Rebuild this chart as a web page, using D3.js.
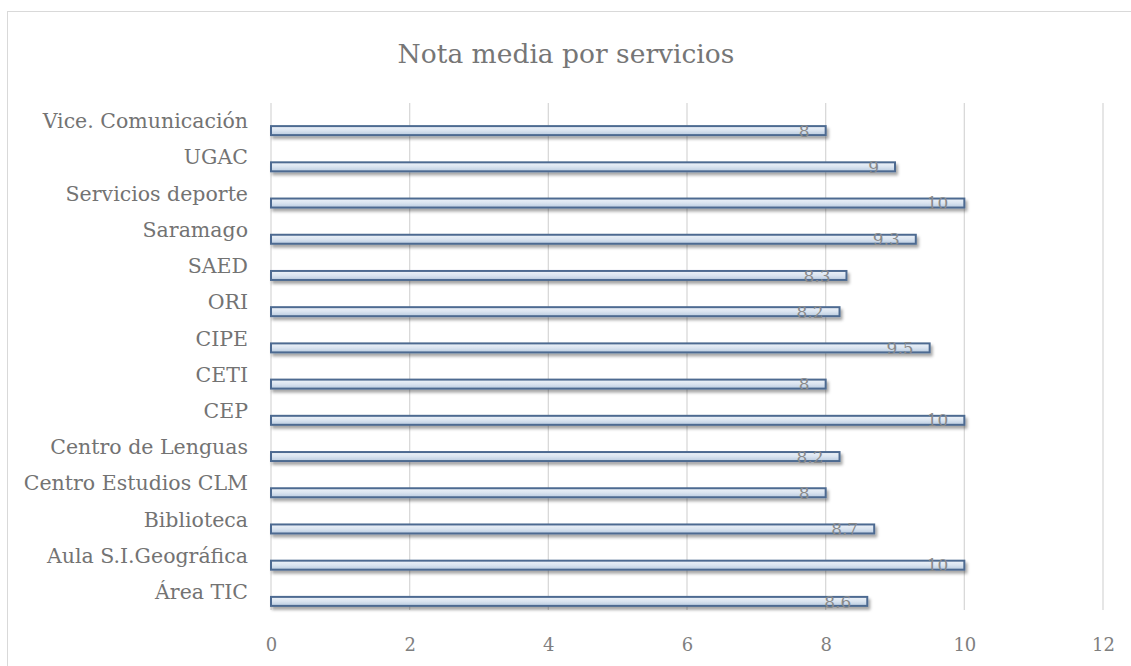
<!DOCTYPE html>
<html>
<head>
<meta charset="utf-8">
<script src="https://cdn.jsdelivr.net/npm/d3@7"></script>
<style>
  body { margin: 0; background: #fff; }
  text { font-family: "DejaVu Serif", "Liberation Serif", serif; }
</style>
</head>
<body>
<div id="chart"></div>
<script>
// categories from top to bottom, as in the picture
var categories = ['Vice. Comunicación', 'UGAC', 'Servicios deporte', 'Saramago', 'SAED', 'ORI',
    'CIPE', 'CETI', 'CEP', 'Centro de Lenguas', 'Centro Estudios CLM', 'Biblioteca',
    'Aula S.I.Geográfica', 'Área TIC'];
var values = [8, 9, 10, 9.3, 8.3, 8.2, 9.5, 8, 10, 8.2, 8, 8.7, 10, 8.6];
var xTicks = [0, 2, 4, 6, 8, 10, 12];
var title = 'Nota media por servicios';

var width = 1131, height = 666;
var margin = {top: 103, left: 271, right: 28, bottom: 56};

var svg = d3.select('#chart').append('svg')
    .attr('width', width)
    .attr('height', height);

var defs = svg.append('defs');
var grad = defs.append('linearGradient')
    .attr('id', 'barFill')
    .attr('x1', 0).attr('y1', 0).attr('x2', 0).attr('y2', 1);
grad.append('stop').attr('offset', '0%').attr('stop-color', '#eef3f9');
grad.append('stop').attr('offset', '50%').attr('stop-color', '#dae4f0');
grad.append('stop').attr('offset', '100%').attr('stop-color', '#b9cbe0');

var shadow = defs.append('filter')
    .attr('id', 'shadow')
    .attr('x', '-5%').attr('y', '-50%').attr('width', '110%').attr('height', '250%');
shadow.append('feDropShadow')
    .attr('dx', 2).attr('dy', 3).attr('stdDeviation', 1.8)
    .attr('flood-color', '#000').attr('flood-opacity', 0.35);

// outer chart border (runs off right / bottom edges)
svg.append('rect')
    .attr('x', 7.5).attr('y', 11.5)
    .attr('width', width + 10).attr('height', height + 10)
    .attr('fill', 'none')
    .attr('stroke', '#d9d9d9')
    .attr('stroke-width', 1);

var x = d3.scaleLinear()
    .domain([0, 12])
    .range([margin.left, width - margin.right]);

var y = d3.scaleBand()
    .domain(categories)
    .range([margin.top, height - margin.bottom]);

// gridlines
svg.append('g')
    .selectAll('line')
    .data(xTicks)
    .enter().append('line')
    .attr('x1', function(d){ return x(d); })
    .attr('x2', function(d){ return x(d); })
    .attr('y1', margin.top)
    .attr('y2', height - margin.bottom)
    .attr('stroke', '#d9d9d9')
    .attr('stroke-width', 1.3);

// x tick labels
var xAxis = svg.append('g')
    .attr('transform', 'translate(0,' + (height - margin.bottom) + ')')
    .call(d3.axisBottom(x).tickValues(xTicks).tickSize(0).tickPadding(28).tickFormat(d3.format('d')));
xAxis.select('.domain').remove();
xAxis.selectAll('text')
    .attr('fill', '#7f7f7f')
    .style('font-size', '18px')
    .style('font-family', '"DejaVu Serif", serif');

// category labels
svg.append('g')
    .selectAll('text')
    .data(categories)
    .enter().append('text')
    .attr('x', margin.left - 23)
    .attr('y', function(d){ return y(d) + y.bandwidth() / 2; })
    .attr('dy', '0.35em')
    .attr('text-anchor', 'end')
    .attr('fill', '#737373')
    .style('font-size', '20.5px')
    .text(function(d){ return d; });

// bars (sit low in their band, as in the reference)
var barH = 9;
var barOffset = 5;
svg.append('g')
    .selectAll('rect')
    .data(values)
    .enter().append('rect')
    .attr('x', x(0))
    .attr('y', function(d, i){ return y(categories[i]) + y.bandwidth() / 2 + barOffset; })
    .attr('width', function(d){ return x(d) - x(0); })
    .attr('height', barH)
    .attr('fill', 'url(#barFill)')
    .attr('stroke', '#4e6b91')
    .attr('stroke-width', 2)
    .attr('filter', 'url(#shadow)');

// data labels
svg.append('g')
    .selectAll('text')
    .data(values)
    .enter().append('text')
    .attr('x', function(d){ return x(d) - 16; })
    .attr('y', function(d, i){ return y(categories[i]) + y.bandwidth() / 2 + barOffset + barH / 2; })
    .attr('dy', '0.36em')
    .attr('text-anchor', 'end')
    .attr('fill', '#8a8a8a')
    .style('font-size', '17px')
    .text(function(d){ return d; });

// title
svg.append('text')
    .attr('x', 566)
    .attr('y', 63)
    .attr('text-anchor', 'middle')
    .attr('fill', '#767676')
    .style('font-size', '26.5px')
    .text(title);
</script>
</body>
</html>
